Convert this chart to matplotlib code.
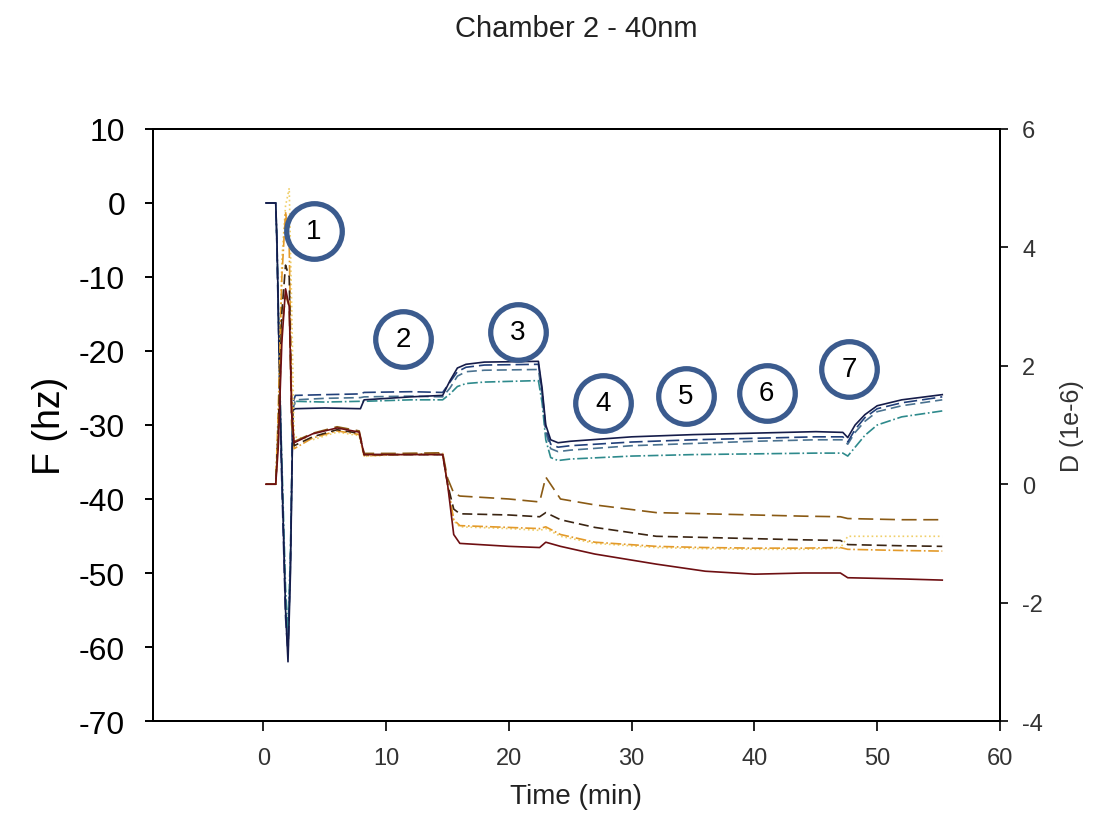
import matplotlib
matplotlib.use("Agg")
import matplotlib.pyplot as plt

plt.rcParams['font.family'] = ['Liberation Sans', 'DejaVu Sans']
plt.rcParams['axes.unicode_minus'] = False

# frequency traces (left axis, Hz)
t_f1 = [0.2, 1.0, 1.1, 1.4, 1.8, 2.0, 2.2, 2.4, 2.6, 5, 7.9, 8.2, 12, 14.6, 15.2, 15.8, 16.5, 18, 22.4, 22.7, 23.0, 23.4, 24.0, 25, 30, 35, 40, 45, 47.2, 47.6, 48.2, 49, 50, 52, 55.3]
f_navy = [0, 0, -5, -30, -55, -62, -50, -28, -27.8, -27.7, -27.8, -26.6, -26.2, -26.0, -24, -22.3, -21.8, -21.5, -21.4, -25, -30, -32, -32.4, -32.2, -31.6, -31.3, -31.1, -30.9, -31.0, -31.7, -30.0, -28.6, -27.4, -26.6, -25.9]
f_blue = [0, 0, -6, -32, -56, -61, -48, -27, -26.0, -25.9, -25.8, -25.6, -25.5, -25.6, -24.2, -22.8, -22.2, -21.9, -21.8, -25.5, -30.5, -32.6, -33.0, -32.8, -32.3, -32.0, -31.8, -31.6, -31.6, -32.3, -30.6, -29.0, -27.8, -27.0, -26.2]
f_grey = [0, 0, -6, -31, -54, -60, -49, -28, -26.6, -26.4, -26.3, -26.2, -26.1, -26.2, -25.0, -23.4, -22.8, -22.6, -22.5, -26, -31, -33.2, -33.6, -33.4, -32.8, -32.5, -32.2, -32.0, -32.0, -32.6, -31.0, -29.5, -28.2, -27.4, -26.6]
f_teal = [0, 0, -5, -29, -52, -58, -47, -28, -26.8, -26.9, -26.8, -26.8, -26.6, -26.6, -25.8, -24.8, -24.4, -24.2, -24.0, -27, -32, -34.4, -34.8, -34.6, -34.2, -34.0, -33.9, -33.8, -33.8, -34.2, -33.0, -31.4, -30.0, -28.9, -28.1]

# dissipation traces (right axis, 1e-6)
t_d1 = [0.2, 1.0, 1.2, 1.5, 1.8, 2.1, 2.3, 2.5, 4, 6, 7.8, 8.2, 11, 14.6, 15.0, 15.5, 16, 20, 22.5, 23.0, 24.2, 27, 32, 36, 40, 44, 47, 47.6, 52, 55.3]
d_red = [0, 0, 0.6, 2.4, 3.3, 3.0, 1.2, 0.7, 0.85, 0.95, 0.88, 0.5, 0.5, 0.5, 0.0, -0.85, -1.0, -1.05, -1.07, -0.98, -1.05, -1.18, -1.35, -1.47, -1.52, -1.50, -1.50, -1.58, -1.60, -1.62]
d_brown = [0, 0, 0.8, 2.6, 3.2, 3.0, 1.0, 0.72, 0.86, 0.97, 0.9, 0.52, 0.52, 0.53, 0.1, -0.15, -0.2, -0.25, -0.3, 0.12, -0.25, -0.35, -0.48, -0.5, -0.52, -0.54, -0.55, -0.58, -0.6, -0.6]
d_dark = [0, 0, 0.9, 2.9, 3.7, 3.5, 1.2, 0.65, 0.8, 0.92, 0.86, 0.5, 0.5, 0.5, 0.0, -0.42, -0.5, -0.52, -0.55, -0.48, -0.6, -0.73, -0.88, -0.9, -0.92, -0.94, -0.95, -1.02, -1.04, -1.05]
d_orange = [0, 0, 1.2, 3.5, 4.6, 4.0, 1.5, 0.6, 0.78, 0.9, 0.84, 0.48, 0.5, 0.52, 0.0, -0.6, -0.7, -0.73, -0.75, -0.72, -0.85, -0.98, -1.05, -1.07, -1.08, -1.08, -1.07, -1.1, -1.12, -1.13]
d_yellow = [0, 0, 1.0, 3.8, 4.7, 5.0, 3.0, 0.8, 0.75, 0.88, 0.82, 0.47, 0.5, 0.5, 0.0, -0.62, -0.72, -0.75, -0.78, -0.75, -0.88, -1.0, -1.07, -1.09, -1.1, -1.1, -1.08, -0.88, -0.88, -0.88]

step_labels = ['1', '2', '3', '4', '5', '6', '7']
step_t = [4.1, 11.4, 20.7, 27.7, 34.4, 41.0, 47.7]
step_f = [-3.8, -18.4, -17.4, -27.0, -26.1, -25.7, -22.4]

fig = plt.figure(figsize=(10.95, 8.2), dpi=100)
ax = fig.add_axes([0.1397, 0.1195, 0.7735, 0.722])
ax2 = ax.twinx()

lw = 1.2
ax.plot(t_f1, f_teal, color='#2e8a8c', lw=lw, ls='-.')
ax.plot(t_f1, f_grey, color='#4a7290', lw=lw, ls=(0, (6, 3)))
ax.plot(t_f1, f_blue, color='#22407a', lw=lw, ls=(0, (8, 3)))
ax.plot(t_f1, f_navy, color='#151c4a', lw=lw)

ax2.plot(t_d1, d_yellow, color='#f0cf6a', lw=lw, ls=':')
ax2.plot(t_d1, d_orange, color='#e39a2a', lw=lw, ls='-.')
ax2.plot(t_d1, d_dark, color='#3a2412', lw=lw, ls=(0, (6, 3)))
ax2.plot(t_d1, d_brown, color='#8a5a14', lw=lw, ls=(0, (9, 4)))
ax2.plot(t_d1, d_red, color='#6e0f12', lw=lw)

ax.set_xlim(-9, 60)
ax.set_ylim(-70, 10)
ax2.set_ylim(-4, 6)
ax.set_xticks(range(0, 61, 10))
ax.set_yticks(range(-70, 11, 10))
ax2.set_yticks(range(-4, 7, 2))

for s in ['left', 'right', 'top', 'bottom']:
    ax.spines[s].set_linewidth(1.4)
    ax2.spines[s].set_linewidth(1.4)

narrow = ['Liberation Sans Narrow', 'Liberation Sans', 'DejaVu Sans']
ax.tick_params(axis='y', direction='out', length=6, width=1.4, pad=14, labelsize=23)
ax.tick_params(axis='x', direction='out', length=7, width=1.2, pad=12, labelsize=17)
for lab in ax.get_xticklabels():
    lab.set_family(narrow)
    lab.set_color('#333333')
ax2.tick_params(axis='y', direction='out', length=6, width=1.2, pad=10, labelsize=17, labelcolor='#333333')

ax.set_ylabel('F (hz)', fontsize=27, labelpad=8)
ax.set_xlabel('Time (min)', fontsize=20, family=narrow, labelpad=10, color='#222222')
ax2.set_ylabel('D (1e-6)', fontsize=18, labelpad=12, color='#333333')

fig.text(0.5265, 0.965, 'Chamber 2 - 40nm', ha='center', va='center', fontsize=21, color='#222222')

for lab, t, f in zip(step_labels, step_t, step_f):
    ax2.plot(t, f, marker='o', ms=40, mfc='none', mec='#3b5b8e', mew=3.8,
             transform=ax.transData, clip_on=False, zorder=5)
    ax2.text(t, f, lab, ha='center', va='center', fontsize=20, color='black',
             transform=ax.transData, zorder=6)

fig.savefig('out.png', dpi=100)
